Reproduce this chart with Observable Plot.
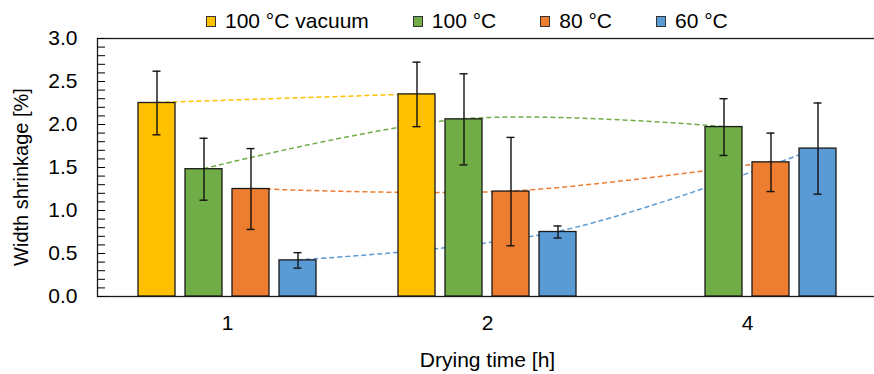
<!DOCTYPE html>
<html><head><meta charset="utf-8">
<script src="https://cdn.jsdelivr.net/npm/d3@7"></script>
<script src="https://cdn.jsdelivr.net/npm/@observablehq/plot@0.6"></script>
<style>
html,body{margin:0;padding:0;background:#fff;overflow:hidden}
#wrap{position:relative;width:874px;height:374px;overflow:hidden;font-family:"Liberation Sans",Arial,sans-serif;color:#000}
#legend{position:absolute;top:6px;left:206px;display:flex;gap:44px;font-size:21px;line-height:30px;white-space:nowrap;z-index:2}
.item{display:flex;align-items:center}
.sw{width:8px;height:9px;border:1px solid #333;margin-right:9px}
#chart{position:absolute;top:26px;left:0}
#ytitle{position:absolute;left:21px;top:177px;transform:translate(-50%,-50%) rotate(-90deg);font-size:20px;line-height:22px;white-space:nowrap}
</style>
</head><body>
<div id="wrap">
  <div id="legend"></div>
  <div id="chart"></div>
  <div id="ytitle">Width shrinkage [%]</div>
</div>
<script>
const times = ["1", "2", "4"];
const series = ["100 °C vacuum", "100 °C", "80 °C", "60 °C"];
const colors = ["#FFC000", "#70AD47", "#ED7D31", "#5B9BD5"];
const vacuum100 = [2.25, 2.35, null];
const oven100 = [1.48, 2.06, 1.97];
const oven80 = [1.25, 1.22, 1.56];
const oven60 = [0.42, 0.75, 1.72];
const errVacuum100 = [0.37, 0.375, null];
const err100 = [0.36, 0.53, 0.33];
const err80 = [0.47, 0.63, 0.34];
const err60 = [0.09, 0.07, 0.53];
const yTicks = [0, 0.5, 1, 1.5, 2, 2.5, 3];
const yMinorTicks = d3.range(0, 31).map(i => i / 10);
const xTitle = "Drying time [h]";

const valueSets = [vacuum100, oven100, oven80, oven60];
const errSets = [errVacuum100, err100, err80, err60];
const rows = [];
series.forEach((s, i) => times.forEach((t, j) => {
  if (valueSets[i][j] != null) rows.push({series: s, time: t, value: valueSets[i][j], err: errSets[i][j]});
}));

// legend
const legend = d3.select("#legend");
series.forEach((s, i) => {
  const it = legend.append("div").attr("class", "item");
  it.append("div").attr("class", "sw").style("background", colors[i]);
  it.append("span").text(s);
});

const font = '"Liberation Sans", Arial, sans-serif';
const plot = Plot.plot({
  width: 878, height: 348,
  marginTop: 12, marginBottom: 78, marginLeft: 97, marginRight: 1,
  style: {fontFamily: font, fontSize: "21px", color: "#000", background: "transparent", overflow: "visible"},
  fx: {domain: times, padding: 0, label: null},
  x: {domain: series, paddingInner: 0.2128, paddingOuter: 0.872, axis: null},
  y: {domain: [0, 3]},
  color: {domain: series, range: colors},
  marks: [
    Plot.frame({facet: "super", stroke: "#1a1a1a", strokeWidth: 1.3}),
    Plot.axisY(yMinorTicks, {tickSize: 8, dx: 8, tickFormat: () => "", label: null, strokeWidth: 1}),
    Plot.axisY(yTicks, {tickSize: 0, tickPadding: 20, tickFormat: d3.format(".1f"), label: null}),
    Plot.axisFx({anchor: "bottom", tickSize: 0, tickPadding: 19, label: xTitle, labelAnchor: "center", labelOffset: 70}),
    Plot.barY(rows, {fx: "time", x: "series", y: "value", fill: "series", stroke: "#1a1a1a", strokeWidth: 1.3}),
    Plot.ruleX(rows, {fx: "time", x: "series", y1: d => d.value - d.err, y2: d => d.value + d.err, stroke: "#111", strokeWidth: 1.4}),
    Plot.tickY(rows, {fx: "time", x: "series", y: d => d.value - d.err, stroke: "#111", strokeWidth: 1.4, inset: 14.5}),
    Plot.tickY(rows, {fx: "time", x: "series", y: d => d.value + d.err, stroke: "#111", strokeWidth: 1.4, inset: 14.5})
  ]
});
plot.style.maxWidth = "none";
document.getElementById("chart").append(plot);

// smoothed dashed connectors through bar tops, drawn behind bars using Plot's scales
const fxS = plot.scale("fx"), xS = plot.scale("x"), yS = plot.scale("y");
const line = d3.line()
  .x(d => fxS.apply(d.time) + xS.apply(d.series) - xS.range[0] + xS.bandwidth / 2)
  .y(d => yS.apply(d.value))
  .curve(d3.curveCatmullRom);
const g = d3.create("svg:g").attr("aria-label", "connectors");
series.forEach((s, i) => {
  const pts = rows.filter(r => r.series === s);
  g.append("path").attr("d", line(pts)).attr("fill", "none")
    .attr("stroke", colors[i]).attr("stroke-width", 1.5).attr("stroke-dasharray", "5,3");
});
const barG = plot.querySelector('g[aria-label="bar"]');
plot.insertBefore(g.node(), barG);
</script>
</body></html>
